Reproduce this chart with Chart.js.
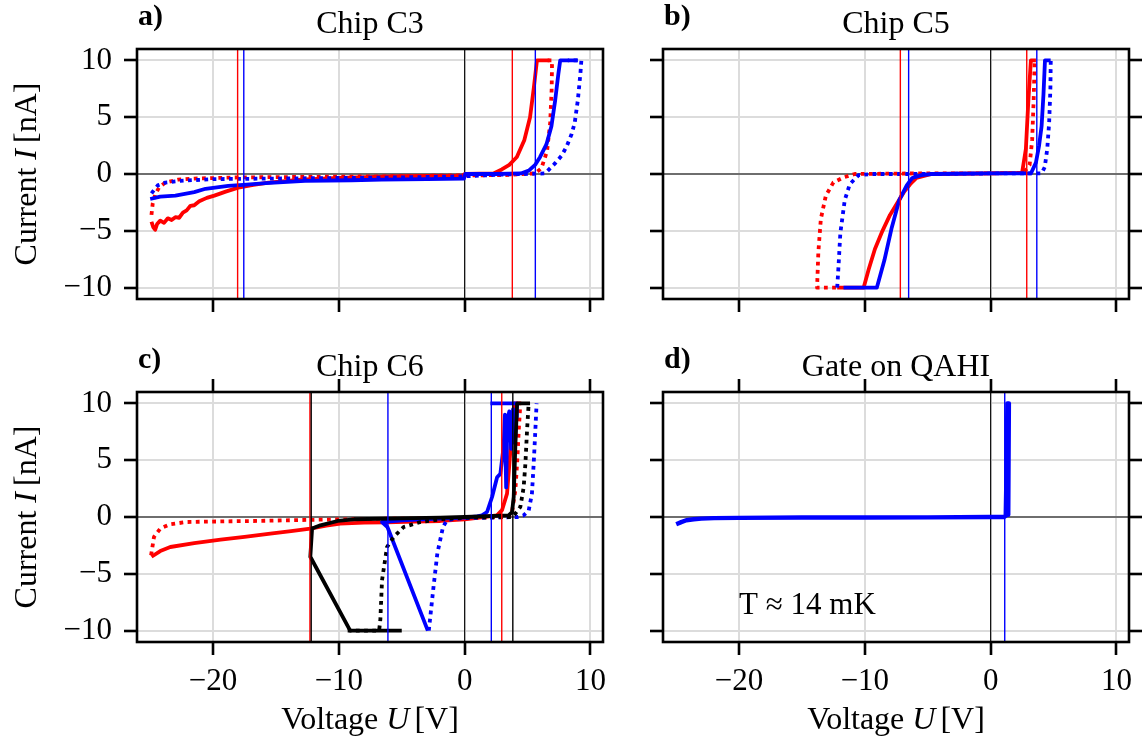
<!DOCTYPE html>
<html>
<head>
<meta charset="utf-8">
<script src="https://cdn.jsdelivr.net/npm/chart.js@4.4.1/dist/chart.umd.min.js"></script>
<style>
  body { margin: 0; background: #fff; width: 1145px; height: 740px; position: relative; overflow: hidden; }
  canvas { position: absolute; }
</style>
</head>
<body>
<canvas id="chipC3" width="615" height="330" style="left:0;top:0"></canvas>
<canvas id="chipC5" width="515" height="330" style="left:630px;top:0"></canvas>
<canvas id="chipC6" width="615" height="400" style="left:0;top:340px"></canvas>
<canvas id="qahi" width="515" height="400" style="left:630px;top:340px"></canvas>
<script>
// axis ranges shared by all four panels
const xMin = -26.05, xMax = 11.0;
const yMin = -11, yMax = 11;

// a) Chip C3
const c3RedSolidU = [-24.9, -24.75, -24.6, -24.45, -24.2, -23.9, -23.6, -23.3, -23.0, -22.7, -22.4, -22.1, -21.8, -21.5, -21.1, -20.5, -19.9, -19.0, -18.0, -16.8, -15.6, -13.0, -10.0, -5.0, -0.2, 0.0, 2.3, 2.95, 3.55, 4.15, 4.75, 5.2, 5.5, 5.75, 6.75];
const c3RedSolidI = [-4.2, -4.7, -4.9, -4.4, -4.1, -4.3, -3.9, -4.05, -3.8, -3.85, -3.4, -3.2, -2.8, -2.75, -2.4, -2.1, -1.9, -1.55, -1.2, -0.95, -0.75, -0.5, -0.35, -0.2, -0.15, 0.0, 0.05, 0.4, 0.8, 1.5, 3.0, 5.0, 7.6, 10, 10];
const c3RedDotU = [-24.9, -24.8, -24.6, -24.3, -23.8, -22.8, -21.5, -18, -12, -6, 0, 3, 5.6, 6.1, 6.55, 6.8, 6.92, 6.95, 6.3];
const c3RedDotI = [-3.6, -2.6, -1.8, -1.2, -0.75, -0.5, -0.4, -0.3, -0.25, -0.2, -0.12, -0.1, 0.05, 0.5, 2.0, 4.5, 7.5, 10, 10];
const c3BlueSolidU = [-25.0, -24.2, -23.0, -21.5, -20.6, -18.8, -17.6, -15.8, -12.7, -9, -6.6, -3, -0.05, 0.05, 2.5, 4.47, 5.1, 5.6, 6.0, 6.5, 6.9, 7.2, 7.45, 7.6, 9.0];
const c3BlueSolidI = [-2.2, -2.0, -1.9, -1.6, -1.3, -1.05, -0.95, -0.8, -0.6, -0.55, -0.5, -0.45, -0.4, 0.0, 0.0, 0.05, 0.3, 0.8, 1.5, 2.6, 4.2, 6.5, 8.8, 10, 10];
const c3BlueDotU = [-24.9, -24.4, -23.8, -22.6, -20, -15, -10, -5, 0, 3, 6.4, 7.2, 7.7, 8.1, 8.5, 8.75, 9.0, 9.2, 9.28, 8.2];
const c3BlueDotI = [-1.7, -1.0, -0.75, -0.6, -0.45, -0.4, -0.35, -0.3, -0.2, -0.05, 0.05, 0.95, 1.6, 2.4, 3.5, 4.5, 6.5, 8.8, 10, 10];
const c3RedMarks = [-18.05, 3.79];
const c3BlueMarks = [-17.56, 5.62];

// b) Chip C5
const c5RedSolidU = [-12.2, -10.1, -9.7, -9.2, -8.6, -8.0, -7.4, -6.9, -6.4, -5.9, -4.7, 0, 2.5, 2.8, 3.0, 3.2, 3.6];
const c5RedSolidI = [-10, -10, -8.4, -6.6, -5.0, -3.6, -2.5, -1.6, -0.9, -0.35, 0.0, 0.05, 0.1, 2.2, 6.5, 10, 10];
const c5RedDotU = [-12.3, -13.8, -13.7, -13.5, -13.1, -12.5, -11.7, -10.8, -6, 0, 2.6, 3.1, 3.3, 3.42, 3.5];
const c5RedDotI = [-10, -10, -6.9, -3.95, -1.9, -0.74, -0.3, 0.0, 0.05, 0.05, 0.1, 0.8, 3.0, 6.5, 10];
const c5BlueSolidU = [-11.7, -9.05, -8.45, -7.86, -7.27, -6.67, -6.23, -5.5, -4.7, 0, 3.2, 3.6, 3.85, 4.05, 4.2, 4.32, 4.77];
const c5BlueSolidI = [-10, -10, -7.6, -4.7, -2.3, -1.0, -0.35, -0.1, 0.0, 0.05, 0.05, 1.0, 2.5, 4.2, 7, 10, 10];
const c5BlueDotU = [-12.2, -12.1, -11.95, -11.6, -11.2, -10.5, -9.5, -5, 0, 4.05, 4.3, 4.5, 4.65, 4.75, 4.78];
const c5BlueDotI = [-10, -8.2, -5.2, -2.3, -0.9, -0.1, 0.0, 0.0, 0.05, 0.05, 0.6, 2.2, 4.5, 7.5, 10];
const c5RedMarks = [-7.18, 2.87];
const c5BlueMarks = [-6.52, 3.67];

// c) Chip C6
const c6RedSolidU = [-24.9, -24.2, -23.4, -21.5, -19.4, -17.5, -15.45, -13.8, -12.27, -11, -9.9, -8, -6.17, -4, -1.93, 0, 1.5, 2.57, 2.97, 3.37, 3.58, 3.77, 3.95, 4.5];
const c6RedSolidI = [-3.5, -3.0, -2.64, -2.3, -2.0, -1.75, -1.46, -1.25, -1.02, -0.75, -0.58, -0.5, -0.47, -0.4, -0.35, -0.2, 0.0, 0.15, 0.6, 2.06, 5.0, 7.9, 10, 10];
const c6RedDotU = [-24.93, -24.7, -24.2, -23.4, -22.1, -19, -16.8, -12.3, -6, 0, 3.5, 3.77, 4.03, 4.17, 4.3, 4.43];
const c6RedDotI = [-3.37, -1.76, -1.02, -0.64, -0.44, -0.38, -0.35, -0.25, -0.15, -0.1, 0.0, 0.44, 2.35, 4.7, 7.6, 10];
const c6BlueSolidU = [-2.93, -6.14, -6.57, -5, -2, 0, 1.0, 1.38, 1.78, 2.18, 2.58, 2.84, 3.1, 3.2, 3.3, 3.4, 3.55, 3.7, 3.85, 4.0, 4.1, 4.15, 2.05];
const c6BlueSolidI = [-10, -0.88, -0.44, -0.3, -0.15, -0.05, 0.05, 0.15, 0.44, 1.76, 3.5, 3.8, 6.2, 9.0, 2.6, 8.6, 9.3, 6.0, 9.5, 6.5, 8.8, 10, 10];
const c6BlueDotU = [-2.85, -2.48, -2.17, -1.72, -1.42, -0.8, 0, 2, 4.22, 4.69, 5.09, 5.35, 5.49, 5.62, 5.72];
const c6BlueDotI = [-10, -6.2, -3.2, -0.88, -0.3, -0.15, -0.1, -0.05, 0.0, 0.15, 0.55, 2.06, 4.7, 7.6, 10];
const c6BlackSolidU = [-5.0, -9.1, -12.27, -12.13, -11.47, -10.1, -8.8, -1.93, 0, 3.5, 3.77, 3.9, 4.03, 4.17, 5.2];
const c6BlackSolidI = [-10, -10, -3.5, -1.02, -0.73, -0.35, -0.2, -0.05, 0.0, 0.15, 0.44, 1.76, 6.2, 10, 10];
const c6BlackDotU = [-9.3, -6.8, -6.7, -6.57, -6.17, -5.64, -4.85, -3.5, -1.9, 0, 3.8, 4.03, 4.43, 4.69, 4.83, 4.96, 5.09];
const c6BlackDotI = [-10, -10, -9, -5.57, -2.64, -1.76, -0.88, -0.44, -0.2, -0.05, 0.0, 0.3, 0.9, 2.6, 4.7, 7.6, 10];
const c6RedMarks = [-12.3, 2.95];
const c6BlueMarks = [-6.1, 2.12];
const c6BlackMarks = [-12.2, 3.83];

// d) Gate on QAHI
const qahiU = [-25.0, -24.6, -24.2, -23.6, -23.0, -22, -20.05, -15, -10, -5, -0.13, 1.05, 1.2, 1.28, 1.33, 1.45, 1.42, 1.38];
const qahiI = [-0.64, -0.45, -0.29, -0.2, -0.14, -0.1, -0.08, -0.05, -0.04, -0.03, 0.0, 0.0, 0.1, 5, 10, 10, 4, 0.2];
const qahiBlueMarks = [1.12];

const serif = "'Liberation Serif', 'DejaVu Serif', serif";
const RED = '#ff0000', BLUE = '#0000ff', BLACK = '#000000';
const TICK_PX = 31, TEXT_PX = 32;

function pts(us, is) {
  return us.map((u, k) => ({ x: u, y: is[k] }));
}

function curve(us, is, color, dotted, width) {
  return {
    data: pts(us, is), borderColor: color, borderWidth: width || 3.8,
    borderDash: dotted ? [3.8, 4.4] : [], borderCapStyle: 'butt', borderJoinStyle: 'round',
    showLine: true, pointRadius: 0, tension: 0, fill: false
  };
}

function marks(vals, color, width) {
  return vals.map(v => ({
    data: [{ x: v, y: yMin }, { x: v, y: yMax }], borderColor: color, borderWidth: width || 1.4,
    showLine: true, pointRadius: 0, fill: false
  }));
}

function zeroLines() {
  return [
    { data: [{ x: xMin, y: 0 }, { x: xMax, y: 0 }], borderColor: BLACK, borderWidth: 1.1, showLine: true, pointRadius: 0 },
    { data: [{ x: 0, y: yMin }, { x: 0, y: yMax }], borderColor: BLACK, borderWidth: 1.1, showLine: true, pointRadius: 0 }
  ];
}

const tickFmt = v => (v < 0 ? '\u2212' + (-v) : String(v));

function buildScales(p) {
  const tickGrid = { color: '#dcdcdc', lineWidth: 2, tickLength: 13, tickColor: BLACK, tickWidth: 2.6 };
  const markOnly = Object.assign({}, tickGrid, { drawOnChartArea: false });
  const s = {
    x: {
      type: 'linear', position: 'bottom', min: xMin, max: xMax,
      ticks: { stepSize: 10, includeBounds: false, display: p.xLabels, color: BLACK, font: { family: serif, size: TICK_PX }, padding: 8, maxRotation: 0, callback: tickFmt },
      grid: tickGrid, border: { display: false },
      afterFit: sc => { sc.height = p.xh; }
    },
    y: {
      type: 'linear', position: 'left', min: yMin, max: yMax,
      ticks: { stepSize: 5, includeBounds: false, display: p.yLabels, color: BLACK, font: { family: serif, size: TICK_PX }, padding: 12, callback: tickFmt },
      grid: tickGrid, border: { display: false },
      afterFit: sc => { sc.width = p.yw; }
    }
  };
  if (p.topTicks) {
    s.x2 = {
      type: 'linear', axis: 'x', position: 'top', min: xMin, max: xMax,
      ticks: { stepSize: 10, includeBounds: false, display: false },
      grid: markOnly, border: { display: false },
      afterFit: sc => { sc.height = 14; }
    };
  }
  if (p.rightTicks) {
    s.y2 = {
      type: 'linear', axis: 'y', position: 'right', min: yMin, max: yMax,
      ticks: { stepSize: 5, includeBounds: false, display: false },
      grid: markOnly, border: { display: false },
      afterFit: sc => { sc.width = 16; }
    };
  }
  return s;
}

// draws runs of text in different styles one after the other, centred on x
function drawRuns(ctx, runs, x, y, size) {
  const fontOf = st => (st === 'i' ? 'italic ' : st === 'b' ? 'bold ' : '') + size + 'px ' + serif;
  let total = 0;
  runs.forEach(r => { ctx.font = fontOf(r[1]); total += ctx.measureText(r[0]).width + (r[2] || 0); });
  let cx = x - total / 2;
  runs.forEach(r => {
    ctx.font = fontOf(r[1]);
    ctx.fillText(r[0], cx, y);
    cx += ctx.measureText(r[0]).width + (r[2] || 0);
  });
}

const decor = {
  id: 'decor',
  afterDatasetsDraw(chart) {
    const a = chart.chartArea, ctx = chart.ctx;
    ctx.save();
    ctx.strokeStyle = BLACK;
    ctx.lineWidth = 2.6;
    ctx.strokeRect(a.left, a.top, a.right - a.left, a.bottom - a.top);
    ctx.restore();
  },
  afterDraw(chart, args, o) {
    const a = chart.chartArea, ctx = chart.ctx;
    const cx = (a.left + a.right) / 2;
    ctx.save();
    ctx.fillStyle = BLACK;
    ctx.textBaseline = 'alphabetic';
    ctx.textAlign = 'left';
    ctx.font = 'bold 30px ' + serif;
    ctx.fillText(o.letter, a.left + 1, a.top - 24);
    drawRuns(ctx, [[o.title, 'n']], cx, a.top - 16, TEXT_PX);
    if (o.yLabel) {
      ctx.save();
      ctx.translate(36, (a.top + a.bottom) / 2);
      ctx.rotate(-Math.PI / 2);
      drawRuns(ctx, [['Current ', 'n'], ['I', 'i', 6], ['[nA]', 'n']], 0, 0, TEXT_PX);
      ctx.restore();
    }
    if (o.xLabel) {
      drawRuns(ctx, [['Voltage ', 'n'], ['U', 'i', 5], ['[V]', 'n']], cx, a.bottom + 87, TEXT_PX);
    }
    if (o.note) {
      const xs = chart.scales.x, ys = chart.scales.y;
      ctx.font = TICK_PX + 'px ' + serif;
      ctx.fillText(o.note, xs.getPixelForValue(o.noteAt[0]), ys.getPixelForValue(o.noteAt[1]));
    }
    ctx.restore();
  }
};

function panel(id, p, datasets) {
  datasets.forEach((d, k) => { d.order = -k; });
  new Chart(document.getElementById(id), {
    type: 'scatter',
    data: { datasets },
    options: {
      responsive: false, animation: false, devicePixelRatio: 1,
      layout: { padding: { top: p.padTop, right: p.padRight, left: 0, bottom: 0 } },
      scales: buildScales(p),
      plugins: {
        legend: { display: false }, tooltip: { enabled: false },
        decor: { letter: p.letter, title: p.title, yLabel: p.yLabels, xLabel: p.xLabels, note: p.note, noteAt: p.noteAt }
      }
    },
    plugins: [decor]
  });
}

panel('chipC3', { letter: 'a)', title: 'Chip C3', xLabels: false, yLabels: true, xh: 31, yw: 137, padTop: 49, padRight: 12 }, [
  ...zeroLines(),
  curve(c3RedSolidU, c3RedSolidI, RED, false),
  curve(c3RedDotU, c3RedDotI, RED, true),
  curve(c3BlueSolidU, c3BlueSolidI, BLUE, false),
  curve(c3BlueDotU, c3BlueDotI, BLUE, true),
  ...marks(c3RedMarks, RED),
  ...marks(c3BlueMarks, BLUE)
]);

panel('chipC5', { letter: 'b)', title: 'Chip C5', xLabels: false, yLabels: false, rightTicks: true, xh: 31, yw: 33, padTop: 49, padRight: 0 }, [
  ...zeroLines(),
  curve(c5RedSolidU, c5RedSolidI, RED, false),
  curve(c5RedDotU, c5RedDotI, RED, true),
  curve(c5BlueSolidU, c5BlueSolidI, BLUE, false),
  curve(c5BlueDotU, c5BlueDotI, BLUE, true),
  ...marks(c5RedMarks, RED),
  ...marks(c5BlueMarks, BLUE)
]);

panel('chipC6', { letter: 'c)', title: 'Chip C6', xLabels: true, yLabels: true, topTicks: true, xh: 98, yw: 137, padTop: 38, padRight: 12 }, [
  ...zeroLines(),
  curve(c6RedSolidU, c6RedSolidI, RED, false),
  curve(c6RedDotU, c6RedDotI, RED, true),
  curve(c6BlueSolidU, c6BlueSolidI, BLUE, false),
  curve(c6BlueDotU, c6BlueDotI, BLUE, true),
  curve(c6BlackSolidU, c6BlackSolidI, BLACK, false),
  curve(c6BlackDotU, c6BlackDotI, BLACK, true),
  ...marks(c6RedMarks, RED),
  ...marks(c6BlackMarks, BLACK),
  ...marks(c6BlueMarks, BLUE)
]);

panel('qahi', { letter: 'd)', title: 'Gate on QAHI', xLabels: true, yLabels: false, topTicks: true, rightTicks: true, xh: 98, yw: 33, padTop: 38, padRight: 0, note: 'T \u2248 14 mK', noteAt: [-20, -8.5] }, [
  ...zeroLines(),
  curve(qahiU, qahiI, BLUE, false, 4.4),
  ...marks(qahiBlueMarks, BLUE)
]);
</script>
</body>
</html>
